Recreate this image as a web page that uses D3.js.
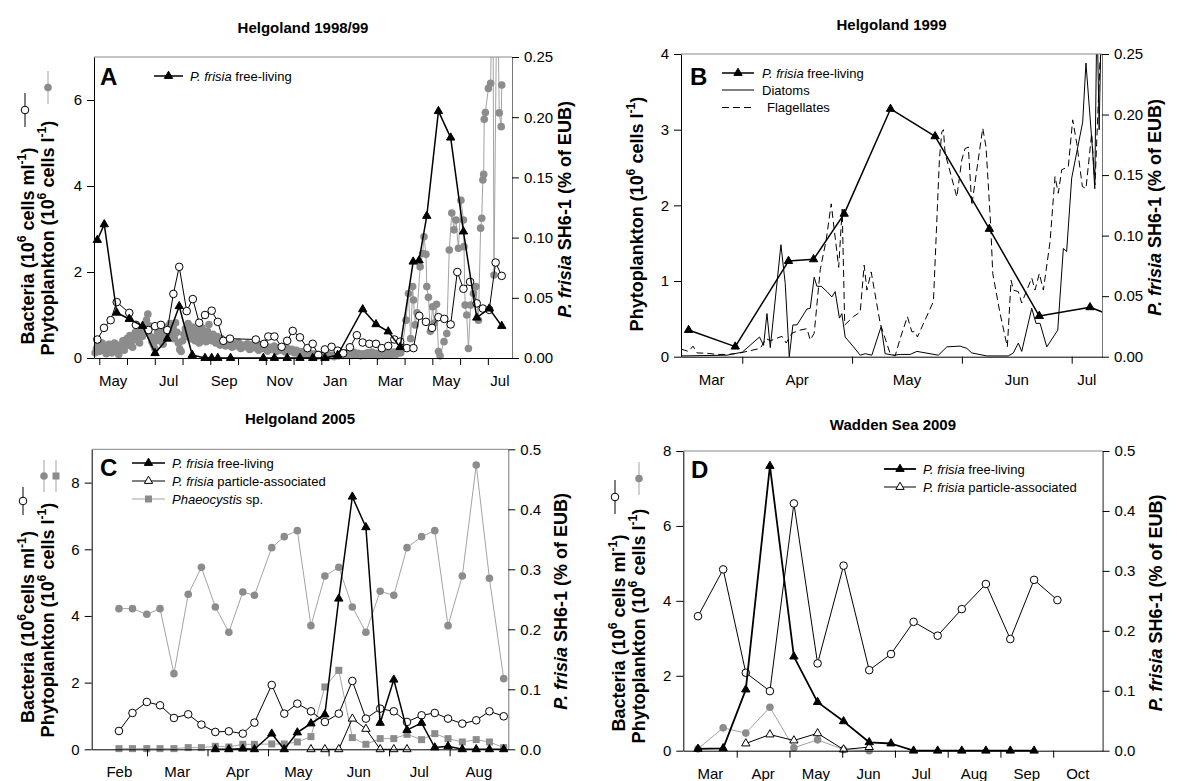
<!DOCTYPE html>
<html lang="en">
<head>
<meta charset="utf-8">
<title>P. frisia SH6-1 panels</title>
<script src="https://cdn.jsdelivr.net/npm/d3@7"></script>
<style>
body { margin: 0; background: #fff; }
text { font-family: "Liberation Sans", Arial, sans-serif; }
</style>
</head>
<body>
<script>
// x values are months: A from 1 May 1998, B from 1 Apr 1999, C from 1 Feb 2005, D from 1 Mar 2009

// ---- Panel A: Helgoland 1998/99 ----
var aMonthNames = ["May", "Jul", "Sep", "Nov", "Jan", "Mar", "May", "Jul"];
var aMonthIdx = [0, 2, 4, 6, 8, 10, 12, 14];
var aFree = [[-0.07,0.098],[0.18,0.111],[0.63,0.0376],[1.08,0.0324],[1.56,0.0266],[2.01,0.004],[2.45,0.016],[2.88,0.043],[3.35,0.0025],[3.81,0],[4.05,0],[4.27,0],[4.73,0],[5.91,0],[6.31,0],[6.77,0],[7.23,0],[7.69,0],[8.13,0],[8.59,0.0025],[9.49,0.0404],[9.97,0.028],[10.41,0.022],[10.84,0.009],[11.31,0.080],[11.52,0.081],[11.80,0.118],[12.22,0.205],[12.66,0.183],[13.12,0.105],[13.60,0.0335],[14.05,0.041],[14.5,0.0266]];
var aBact = [[-0.07,.43],[0.17,.70],[0.41,.88],[0.63,1.30],[1.08,1.05],[1.32,.77],[1.77,.65],[2.01,.74],[2.22,.77],[2.45,.65],[2.67,1.49],[2.88,2.12],[3.15,1.09],[3.37,1.37],[3.60,.82],[3.81,1.0],[4.05,1.1],[4.27,.84],[4.47,.40],[4.71,.45],[5.64,.43],[5.94,.33],[6.09,.5],[6.31,.5],[6.57,.26],[6.77,.40],[6.97,.63],[7.23,.48],[7.50,.23],[7.69,.33],[7.89,.07],[8.13,.2],[8.37,.26],[8.59,.17],[8.79,.11],[9.03,.25],[9.28,.53],[9.49,.36],[9.73,.33],[9.97,.33],[10.18,.23],[10.41,.28],[10.63,.43],[10.84,.38],[11.08,.23],[11.32,.23],[11.53,.98],[11.77,.84],[11.99,.70],[12.22,.95],[12.43,.91],[12.66,.78],[12.90,2.0],[13.12,1.61],[13.36,1.77],[13.60,1.27],[13.82,1.15],[14.05,1.12],[14.28,2.22],[14.5,1.91]];
var aPhyto = [[-0.15,.12],[-0.10,.22],[-0.05,.30],[0.0,.15],[0.05,.25],[0.10,.35],[0.15,.18],[0.20,.28],[0.25,.10],[0.30,.24],[0.35,.32],[0.40,.20],[0.45,.12],[0.50,.28],[0.55,.35],[0.60,.15],[0.65,.25],[0.70,.08],[0.75,.30],[0.80,.22],[0.85,.40],[0.90,.18],[0.95,.32],[1.00,.45],
	[1.05,.30],[1.10,.52],[1.15,.38],[1.20,.25],[1.25,.48],[1.30,.60],[1.35,.42],[1.40,.55],[1.45,.35],[1.50,.62],[1.55,.50],[1.60,.70],[1.65,.58],[1.70,.88],[1.75,1.02],[1.80,.75],[1.85,.50],[1.90,.38],[1.95,.30],[2.00,.22],[2.05,.45],[2.10,.58],[2.15,.40],[2.20,.65],[2.25,.50],[2.30,.32],[2.35,.55],[2.40,.72],[2.45,.48],[2.50,.62],[2.55,.80],[2.60,.55],[2.65,.70],[2.70,.45],[2.75,.82],[2.80,.60],[2.85,.35],[2.90,.20],[2.95,.15],
	[3.00,.40],[3.05,.55],[3.10,.68],[3.15,.50],[3.20,.80],[3.25,.62],[3.30,.45],[3.35,.72],[3.40,.55],[3.45,.40],[3.50,.65],[3.55,.48],[3.60,.35],[3.65,.58],[3.70,.70],[3.75,.42],[3.80,.55],[3.85,.38],[3.90,.62],[3.95,.78],[4.00,.52],[4.05,.40],[4.10,.55],[4.15,.45],[4.20,.35],[4.25,.50],[4.30,.42],[4.35,.30],[4.40,.45],[4.45,.35],[4.50,.40],[4.55,.28],[4.60,.38],[4.65,.30],[4.70,.35],
	[4.78,.25],[4.86,.34],[4.94,.28],[5.02,.36],[5.10,.22],[5.18,.30],[5.26,.26],[5.34,.33],[5.42,.20],[5.50,.30],[5.58,.24],[5.66,.32],[5.74,.18],[5.82,.28],[5.90,.22],[5.98,.30],[6.06,.16],[6.14,.25],[6.22,.20],[6.30,.28],[6.38,.15],[6.46,.24],[6.54,.18],[6.62,.26],[6.70,.14],[6.78,.22],[6.86,.16],[6.94,.20],[7.02,.12],[7.10,.18],[7.18,.10],[7.26,.15],[7.34,.08],[7.42,.13],[7.50,.07],[7.58,.11],[7.66,.05],[7.74,.09],[7.82,.04],[7.90,.08],[7.98,.05],[8.06,.07],[8.14,.04],[8.22,.09],[8.30,.05],[8.38,.06],[8.46,.03],[8.54,.08],[8.62,.05],[8.70,.10],[8.78,.06],[8.86,.12],[8.94,.07],[9.02,.10],[9.10,.06],[9.18,.13],[9.26,.08],[9.34,.11],[9.42,.05],[9.50,.10],[9.58,.06],[9.66,.12],[9.74,.07],[9.82,.14],[9.90,.08],[9.98,.11],[10.06,.05],[10.14,.10],[10.22,.06],[10.30,.12],[10.38,.07],[10.46,.11],[10.54,.08],[10.62,.14],[10.70,.09],[10.78,.16],[10.86,.12],[10.92,.26],
	[11.05,.88],[11.14,1.5],[11.22,.45],[11.29,1.66],[11.32,1.35],[11.38,.77],[11.45,1.05],[11.56,2.12],[11.65,2.43],[11.70,2.82],[11.77,2.41],[11.80,1.66],[11.86,1.41],[11.93,.62],[12.01,1.19],[12.07,.81],[12.15,1.25],[12.22,.15],[12.28,.05],[12.42,.38],[12.52,.57],[12.61,2.51],[12.70,3.37],[12.78,2.98],[12.85,3.21],[12.94,2.55],[13.03,3.67],[13.12,3.21],[13.14,2.59],[13.18,1.23],[13.24,1.0],[13.30,.22],[13.38,1.23],[13.48,1.5],[13.57,1.66],[13.66,.88],[13.74,3.02],[13.78,3.25],[13.82,4.14],[13.85,4.27],[13.87,5.55],[13.91,5.71],[14.02,6.27],[14.10,6.39],[14.18,9.5],[14.22,1.93],[14.34,9.5],[14.41,5.70],[14.48,5.38],[14.50,6.35]];

// ---- Panel B: Helgoland 1999 ----
var bMonthNames = ["Mar", "Apr", "May", "Jun", "Jul"];
var bMonthIdx = [-1, 0, 1, 2, 3];
var bFree = [[-0.489,0.022],[-0.064,0.0083],[0.421,0.079],[0.649,0.0804],[0.928,0.118],[1.35,0.2046],[1.756,0.182],[2.25,0.1055],[2.705,0.0336],[3.167,0.0408],[3.45,0.031]];
var bDiatoms = [[-0.558,.01],[-0.139,.02],[0.0,.06],[0.157,.26],[0.194,.15],[0.225,.57],[0.255,.12],[0.352,1.48],[0.391,.97],[0.428,0],[0.461,.42],[0.498,.42],[0.589,.63],[0.619,.64],[0.655,1.05],[0.680,.93],[0.719,.93],[0.771,.86],[0.816,.79],[0.846,.86],[0.885,.51],[0.907,.57],[0.937,.26],[1.013,.13],[1.074,.02],[1.119,.04],[1.180,.02],[1.265,.40],[1.301,.04],[1.377,.02],[1.438,.03],[1.529,.03],[1.590,.07],[1.786,.02],[1.863,.13],[1.984,.14],[2.045,.11],[2.090,.05],[2.227,.01],[2.423,.01],[2.469,.05],[2.514,.18],[2.545,.07],[2.636,.64],[2.675,.44],[2.712,.44],[2.773,.13],[2.873,.35],[2.924,1.43],[2.954,1.39],[3.0,2.36],[3.1,3.1],[3.13,3.88],[3.19,2.73],[3.21,2.22],[3.23,4.6],[3.25,3.0],[3.27,4.5]];
var bFlag = [[-0.558,.10],[-0.489,.07],[-0.449,.14],[-0.412,.05],[-0.321,.045],[-0.230,.03],[-0.125,.03],[-0.018,.05],[0.164,.11],[0.218,.24],[0.255,.21],[0.361,.27],[0.400,.18],[0.452,.31],[0.521,.35],[0.589,.37],[0.619,.22],[0.655,.31],[0.710,1.15],[0.764,1.54],[0.810,2.02],[0.878,1.18],[0.910,1.95],[0.933,.42],[1.013,.53],[1.074,.59],[1.110,1.21],[1.135,.88],[1.174,1.12],[1.256,.44],[1.347,.04],[1.392,.01],[1.438,.24],[1.504,.53],[1.544,.33],[1.574,.33],[1.595,.26],[1.741,.73],[1.795,2.6],[1.817,2.97],[1.832,3.0],[1.847,2.69],[1.954,2.11],[1.999,2.6],[2.029,2.75],[2.059,2.77],[2.090,2.0],[2.190,3.02],[2.220,2.77],[2.263,1.72],[2.281,1.10],[2.348,.57],[2.414,.13],[2.448,1.01],[2.469,.88],[2.514,.86],[2.545,.71],[2.636,1.04],[2.666,.88],[2.705,1.10],[2.742,.88],[2.803,1.52],[2.848,2.38],[2.878,2.16],[2.909,2.47],[2.969,2.51],[3.009,3.13],[3.046,2.82],[3.097,2.25],[3.130,2.22],[3.182,2.95],[3.212,2.27],[3.258,3.92],[3.285,4.2]];

// ---- Panel C: Helgoland 2005 ----
var cMonthNames = ["Feb", "Mar", "Apr", "May", "Jun", "Jul", "Aug"];
var cMonthIdx = [0, 1, 2, 3, 4, 5, 6];
var cDates = [0.536,0.760,0.997,1.215,1.445,1.681,1.899,2.129,2.352,2.583,2.775,3.061,3.268,3.484,3.709,3.939,4.169,4.393,4.617,4.853,5.078,5.296,5.537,5.755,5.974,6.210,6.440,6.658,6.894];
var cBact = [0.55,1.09,1.42,1.32,0.94,1.05,0.74,0.52,0.54,0.47,0.80,1.93,1.07,1.37,1.14,0.82,1.07,2.05,0.92,1.22,1.14,0.82,1.02,1.09,0.92,0.77,0.87,1.14,0.99];
var cPhyto = [4.22,4.22,4.05,4.22,2.27,4.65,5.46,4.27,3.51,4.72,4.62,6.05,6.38,6.56,3.71,5.20,5.46,4.27,3.51,4.74,4.62,6.05,6.38,6.56,3.71,5.20,8.53,5.13,2.12];
var cPhaeo = [.02,.02,.02,.02,.02,.05,.05,.09,.07,.15,.15,.16,.16,.22,.38,1.87,2.37,.35,.15,.32,.32,.45,.29,.47,.32,.22,.29,.22,.05];
var cFreeStart = 7;
var cFree = [0,0,0.001,0,0.026,0,0.028,0.043,0.058,0.251,0.421,0.370,0.044,0.116,0.032,0.044,0.003,0.005,0,0,0,0];
var cPartStart = 14;
var cPart = [0,0,0,0.051,0.034,0,0,0];

// ---- Panel D: Wadden Sea 2009 ----
var dMonthNames = ["Mar", "Apr", "May", "Jun", "Jul", "Aug", "Sep", "Oct"];
var dMonthIdx = [0, 1, 2, 3, 4, 5, 6, 7];
var dDates = [0.265,0.743,1.172,1.629,2.084,2.533,3.026,3.512,3.925,4.353,4.810,5.267,5.724,6.187,6.638,7.080];
var dBact = [3.59,4.84,2.08,1.59,6.60,2.33,4.94,2.15,2.58,3.44,3.07,3.78,4.45,2.98,4.56,4.02];
var dFree = [0.003,0.004,0.102,0.475,0.157,0.081,0.049,0.014,0.012,0,0,0,0,0,0];
var dPartStart = 2;
var dPart = [0.012,0.027,0.017,0.029,0.002,0.006];
var dPhyto = [0.05,0.61,0.47,1.16,0.08,0.29,0.03,0.0];

var W = 1177, H = 781;
var GRAY = "#8c8c8c", GRAYLINE = "#a3a3a3";
var LABEL_SIZE = 18;

var svg = d3.select("body").append("svg")
	.attr("width", W)
	.attr("height", H);
svg.append("rect").attr("width", W).attr("height", H).attr("fill", "#fff");

function pairs(xs, vs, start) {
	start = start || 0;
	return vs.map(function(v, i) { return [xs[start + i], v]; });
}

var clipCount = 0;
function makePanel(o) {
	var p = {};
	p.x = d3.scaleLinear().domain(o.xDomain).range([o.left, o.right]);
	p.yL = d3.scaleLinear().domain(o.yL).range([o.bottom, o.top]);
	p.yR = d3.scaleLinear().domain(o.yR).range([o.bottom, o.top]);
	var id = "clip" + (clipCount++);
	svg.append("clipPath").attr("id", id).append("rect")
		.attr("x", o.left - 6).attr("y", o.top)
		.attr("width", o.right - o.left + 6).attr("height", o.bottom - o.top + 8);
	p.g = svg.append("g").attr("clip-path", "url(#" + id + ")");

	// frame top line
	svg.append("line")
		.attr("x1", o.left).attr("x2", o.right)
		.attr("y1", o.top).attr("y2", o.top)
		.attr("stroke", "#888").attr("stroke-width", 1);

	var ax = svg.append("g").attr("transform", "translate(0," + o.bottom + ")")
		.call(d3.axisBottom(p.x).tickValues(o.monthTicks).tickSize(7).tickSizeOuter(0).tickFormat(""));
	ax.select(".domain").attr("stroke", "#000");

	// month labels centred in the visible part of each month
	var d0 = o.xDomain[0], d1 = o.xDomain[1];
	svg.append("g").selectAll("text")
		.data(o.monthIdx)
		.enter()
		.append("text")
		.attr("x", function(k) { return p.x((Math.max(k, d0) + Math.min(k + 1, d1)) / 2); })
		.attr("y", o.bottom + 28)
		.attr("text-anchor", "middle")
		.attr("font-size", "15px")
		.text(function(k, i) { return o.monthNames[i]; });

	var ay = svg.append("g").attr("transform", "translate(" + o.left + ",0)")
		.call(d3.axisLeft(p.yL).tickValues(o.leftTicks).tickSize(7).tickPadding(5).tickSizeOuter(0).tickFormat(d3.format("d")));
	ay.selectAll("text").attr("font-size", "15px").attr("font-family", '"Liberation Sans", Arial, sans-serif');

	var ar = svg.append("g").attr("transform", "translate(" + o.right + ",0)")
		.call(d3.axisRight(p.yR).tickValues(o.rightTicks).tickSize(7).tickPadding(5).tickSizeOuter(0).tickFormat(d3.format(o.rightFmt)));
	ar.select(".domain").attr("stroke", o.rightColor);
	ar.selectAll("text").attr("font-size", "15px").attr("font-family", '"Liberation Sans", Arial, sans-serif');

	svg.append("text")
		.attr("x", (o.left + o.right) / 2).attr("y", o.titleY)
		.attr("text-anchor", "middle")
		.attr("font-size", "15px").attr("font-weight", "bold")
		.text(o.title);

	svg.append("text")
		.attr("x", o.letterX).attr("y", o.letterY)
		.attr("font-size", "24px").attr("font-weight", "bold")
		.text(o.letter);

	rotLabel(o.right + 59, (o.top + o.bottom) / 2 + 2,
		[{ t: "P. frisia", it: true }, { t: " SH6-1 (% of EUB)" }]);
	return p;
}

function rotLabel(x, y, parts) {
	var size = LABEL_SIZE;
	var t = svg.append("text")
		.attr("transform", "translate(" + x + "," + y + ") rotate(-90)")
		.attr("text-anchor", "middle")
		.attr("font-size", size + "px")
		.attr("font-weight", "bold");
	var back = 0;
	parts.forEach(function(q) {
		var s = t.append("tspan").text(q.t);
		if (q.sup) {
			s.attr("font-size", (size * 0.68) + "px").attr("dy", -size * 0.42);
			back = size * 0.42;
		} else if (back) {
			s.attr("dy", back);
			back = 0;
		}
		if (q.it) s.attr("font-style", "italic");
	});
}

function drawLine(p, data, y, stroke, width, dash) {
	p.g.append("path")
		.datum(data)
		.attr("fill", "none")
		.attr("stroke", stroke)
		.attr("stroke-width", width)
		.attr("stroke-dasharray", dash || null)
		.attr("stroke-linejoin", "round")
		.attr("d", d3.line().x(function(d) { return p.x(d[0]); }).y(function(d) { return y(d[1]); }));
}

function symbolAt(g, cx, cy, kind) {
	if (kind == "circOpen") {
		g.append("circle").attr("cx", cx).attr("cy", cy).attr("r", 3.8)
			.attr("fill", "#fff").attr("stroke", "#000").attr("stroke-width", 1);
	} else if (kind == "circGray") {
		g.append("circle").attr("cx", cx).attr("cy", cy).attr("r", 3.8).attr("fill", GRAY);
	} else if (kind == "sqGray") {
		g.append("rect").attr("x", cx - 3.5).attr("y", cy - 3.5).attr("width", 7).attr("height", 7).attr("fill", GRAY);
	} else {
		g.append("path")
			.attr("transform", "translate(" + cx + "," + cy + ")")
			.attr("d", d3.symbol().type(d3.symbolTriangle).size(30)())
			.attr("fill", kind == "triOpen" ? "#fff" : "#000")
			.attr("stroke", "#000").attr("stroke-width", 1);
	}
}

function drawMarks(p, data, y, kind) {
	data.forEach(function(d) { symbolAt(p.g, p.x(d[0]), y(d[1]), kind); });
}

function legendRow(x0, x1, tx, y, kind, stroke, width, dash, parts) {
	var g = svg.append("g");
	g.append("line").attr("x1", x0).attr("x2", x1).attr("y1", y).attr("y2", y)
		.attr("stroke", stroke).attr("stroke-width", width).attr("stroke-dasharray", dash || null);
	if (kind) symbolAt(g, (x0 + x1) / 2, y, kind);
	var t = g.append("text").attr("x", tx).attr("y", y + 4.5).attr("font-size", "13px");
	parts.forEach(function(q) {
		var s = t.append("tspan").text(q.t);
		if (q.it) s.attr("font-style", "italic");
	});
}

function keySymbol(x, y1, y2, kind, stroke) {
	svg.append("line").attr("x1", x).attr("x2", x).attr("y1", y1).attr("y2", y2)
		.attr("stroke", stroke).attr("stroke-width", 1);
	symbolAt(svg, x, (y1 + y2) / 2, kind);
}

var bactLabel = [{ t: "Bacteria (10" }, { t: "6", sup: true }, { t: " cells ml" }, { t: "-1", sup: true }, { t: ")" }];
var phytoLabel = [{ t: "Phytoplankton (10" }, { t: "6", sup: true }, { t: " cells l" }, { t: "-1", sup: true }, { t: ")" }];
var frisia = [{ t: "P. frisia", it: true }, { t: " free-living" }];
var frisiaPart = [{ t: "P. frisia", it: true }, { t: " particle-associated" }];

// ===== Panel A =====
var pA = makePanel({
	left: 94, right: 512, top: 57, bottom: 358,
	xDomain: [-0.19, 14.87], yL: [0, 7], yR: [0, 0.25],
	monthTicks: d3.range(0, 15), monthIdx: aMonthIdx, monthNames: aMonthNames,
	leftTicks: [0, 2, 4, 6], rightTicks: [0, 0.05, 0.10, 0.15, 0.20, 0.25], rightFmt: ".2f",
	rightColor: "#777", title: "Helgoland 1998/99", titleY: 33,
	letter: "A", letterX: 100, letterY: 85
});
drawLine(pA, aPhyto, pA.yL, GRAYLINE, 1);
drawMarks(pA, aPhyto, pA.yL, "circGray");
drawLine(pA, aBact, pA.yL, "#000", 1);
drawMarks(pA, aBact, pA.yL, "circOpen");
drawLine(pA, aFree, pA.yR, "#000", 1.5);
drawMarks(pA, aFree, pA.yR, "tri");
legendRow(154, 183, 190, 76, "tri", "#000", 1.5, null, frisia);
rotLabel(34, 246, bactLabel);
rotLabel(54, 238, phytoLabel);
keySymbol(25, 93, 127, "circOpen", "#000");
keySymbol(48, 71, 104, "circGray", GRAYLINE);

// ===== Panel B =====
var pB = makePanel({
	left: 681, right: 1102, top: 54, bottom: 356.7,
	xDomain: [-0.558, 3.276], yL: [0, 4], yR: [0, 0.25],
	monthTicks: [0, 1, 2, 3], monthIdx: bMonthIdx, monthNames: bMonthNames,
	leftTicks: [0, 1, 2, 3, 4], rightTicks: [0, 0.05, 0.10, 0.15, 0.20, 0.25], rightFmt: ".2f",
	rightColor: "#777", title: "Helgoland 1999", titleY: 30,
	letter: "B", letterX: 690, letterY: 85
});
drawLine(pB, bFlag, pB.yL, "#000", 1, "7,4");
drawLine(pB, bDiatoms, pB.yL, "#000", 1);
drawLine(pB, bFree, pB.yR, "#000", 1.5);
drawMarks(pB, bFree.filter(function(d) { return d[0] < 3.27; }), pB.yR, "tri");
legendRow(722, 754, 762, 73, "tri", "#000", 1.5, null, frisia);
legendRow(722, 754, 762, 90, null, "#000", 1, null, [{ t: "Diatoms" }]);
legendRow(722, 754, 767, 107.5, null, "#000", 1, "7,4", [{ t: "Flagellates" }]);
rotLabel(643, 214, phytoLabel);

// ===== Panel C =====
var pC = makePanel({
	left: 91.7, right: 508.3, top: 449.3, bottom: 749.3,
	xDomain: [0.086, 6.97], yL: [0, 9], yR: [0, 0.5],
	monthTicks: [1, 2, 3, 4, 5, 6], monthIdx: cMonthIdx, monthNames: cMonthNames,
	leftTicks: [0, 2, 4, 6, 8], rightTicks: [0, 0.1, 0.2, 0.3, 0.4, 0.5], rightFmt: ".1f",
	rightColor: "#777", title: "Helgoland 2005", titleY: 424,
	letter: "C", letterX: 100, letterY: 476
});
var cPhytoD = pairs(cDates, cPhyto), cPhaeoD = pairs(cDates, cPhaeo), cBactD = pairs(cDates, cBact);
var cFreeD = pairs(cDates, cFree, cFreeStart), cPartD = pairs(cDates, cPart, cPartStart);
drawLine(pC, cPhytoD, pC.yL, GRAYLINE, 1);
drawMarks(pC, cPhytoD, pC.yL, "circGray");
drawLine(pC, cPhaeoD, pC.yL, GRAYLINE, 1);
drawMarks(pC, cPhaeoD, pC.yL, "sqGray");
drawLine(pC, cBactD, pC.yL, "#000", 1);
drawMarks(pC, cBactD, pC.yL, "circOpen");
drawLine(pC, cPartD, pC.yR, "#000", 1);
drawMarks(pC, cPartD, pC.yR, "triOpen");
drawLine(pC, cFreeD, pC.yR, "#000", 1.5);
drawMarks(pC, cFreeD, pC.yR, "tri");
legendRow(132, 165, 172, 463, "tri", "#000", 1.5, null, frisia);
legendRow(132, 165, 172, 481, "triOpen", "#000", 1, null, frisiaPart);
legendRow(132, 165, 172, 499, "sqGray", GRAYLINE, 1, null, [{ t: "Phaeocystis", it: true }, { t: " sp." }]);
rotLabel(34, 627, [{ t: "Bacteria (10" }, { t: "6", sup: true }, { t: "cells ml" }, { t: "-1", sup: true }, { t: ")" }]);
rotLabel(54, 620, [{ t: "Phytoplankton  (10" }, { t: "6", sup: true }, { t: " cells l" }, { t: "-1", sup: true }, { t: ")" }]);
keySymbol(23, 487, 515, "circOpen", "#000");
keySymbol(44, 460, 492, "circGray", GRAYLINE);
keySymbol(56, 460, 492, "sqGray", GRAYLINE);

// ===== Panel D =====
var pD = makePanel({
	left: 683.3, right: 1102.6, top: 451, bottom: 750.7,
	xDomain: [-0.013, 7.937], yL: [0, 8], yR: [0, 0.5],
	monthTicks: [1, 2, 3, 4, 5, 6, 7], monthIdx: dMonthIdx, monthNames: dMonthNames,
	leftTicks: [0, 2, 4, 6, 8], rightTicks: [0, 0.1, 0.2, 0.3, 0.4, 0.5], rightFmt: ".1f",
	rightColor: "#222", title: "Wadden Sea 2009", titleY: 430,
	letter: "D", letterX: 691, letterY: 478
});
var dPhytoD = pairs(dDates, dPhyto), dBactD = pairs(dDates, dBact);
var dFreeD = pairs(dDates, dFree), dPartD = pairs(dDates, dPart, dPartStart);
drawLine(pD, dPhytoD, pD.yL, GRAYLINE, 1);
drawMarks(pD, dPhytoD, pD.yL, "circGray");
drawLine(pD, dBactD, pD.yL, "#000", 1);
drawMarks(pD, dBactD, pD.yL, "circOpen");
drawLine(pD, dPartD, pD.yR, "#000", 1);
drawMarks(pD, dPartD, pD.yR, "triOpen");
drawLine(pD, dFreeD, pD.yR, "#000", 1.8);
drawMarks(pD, dFreeD, pD.yR, "tri");
legendRow(884, 916, 923, 469, "tri", "#000", 1.8, null, frisia);
legendRow(884, 916, 923, 487, "triOpen", "#000", 1, null, frisiaPart);
rotLabel(625, 633, bactLabel);
rotLabel(645, 626, phytoLabel);
keySymbol(615, 480, 514, "circOpen", "#000");
keySymbol(639, 462, 495, "circGray", GRAYLINE);
</script>
</body>
</html>
